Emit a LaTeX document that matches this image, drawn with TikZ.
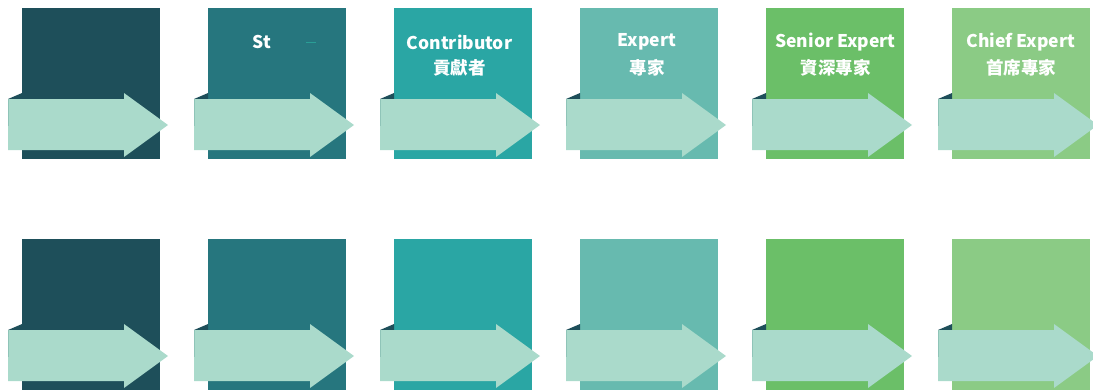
\documentclass[tikz,border=0pt]{standalone}
\usepackage{fontspec}
\newfontfamily\cjk{Noto Sans CJK TC}
\definecolor{cA}{HTML}{1E4F5A}
\definecolor{cB}{HTML}{26767E}
\definecolor{cC}{HTML}{2AA6A4}
\definecolor{cD}{HTML}{67BAAF}
\definecolor{cE}{HTML}{6BBF68}
\definecolor{cF}{HTML}{8BCB85}
\definecolor{arrowc}{HTML}{AADACB}
\definecolor{edgec}{HTML}{8FC4B8}
\definecolor{markc}{HTML}{2A9E96}
\tikzset{
  stagebox/.style={draw=none, inner sep=0pt, minimum width=138pt, minimum height=151pt, anchor=north west},
  label1/.style={text=white, font=\cjk\bfseries\fontsize{17.5}{19}\selectfont, inner sep=0pt},
}
\begin{document}
\begin{tikzpicture}[x=1pt,y=-1pt]
\useasboundingbox (0,0) rectangle (1093,389);
\clip (0,0) rectangle (1093,389);
\foreach \i/\c in {0/cA,1/cB,2/cC,3/cD,4/cE,5/cF}{
  \foreach \r/\T in {t/8,b/239}{
    \pgfmathsetmacro{\L}{22+186*\i}
    \node[stagebox, fill=\c] (box\i\r) at (\L,\T) {};
    % shadow triangle
    \fill[cA] (\L-14,\T+91) -- (\L,\T+85) -- (\L,\T+91) -- cycle;
    % arrow
    \fill[arrowc] (\L-14,\T+91) -- (\L+102,\T+91) -- (\L+102,\T+85) -- (\L+146,\T+117)
      -- (\L+102,\T+149) -- (\L+102,\T+142) -- (\L-14,\T+142) -- cycle;
    \draw[edgec, line width=0.8pt] (\L-13.6,\T+91) -- (\L-13.6,\T+118);
  }
}
\node[label1, anchor=west] (t1) at (252.5,42) {St};
\fill[markc] (306,41.6) rectangle (316,42.8);
\node[label1] (t2a) at (459.5,42) {Contributor};
\node[label1] (t2b) at (459.5,68) {貢獻者};
\node[label1] (t3a) at (647,42) {Expert};
\node[label1] (t3b) at (647,68) {專家};
\node[label1] (t4a) at (835.5,42) {Senior Expert};
\node[label1] (t4b) at (835.5,68) {資深專家};
\node[label1] (t5a) at (1021,42) {Chief Expert};
\node[label1] (t5b) at (1021,68) {首席專家};
\end{tikzpicture}
\end{document}
